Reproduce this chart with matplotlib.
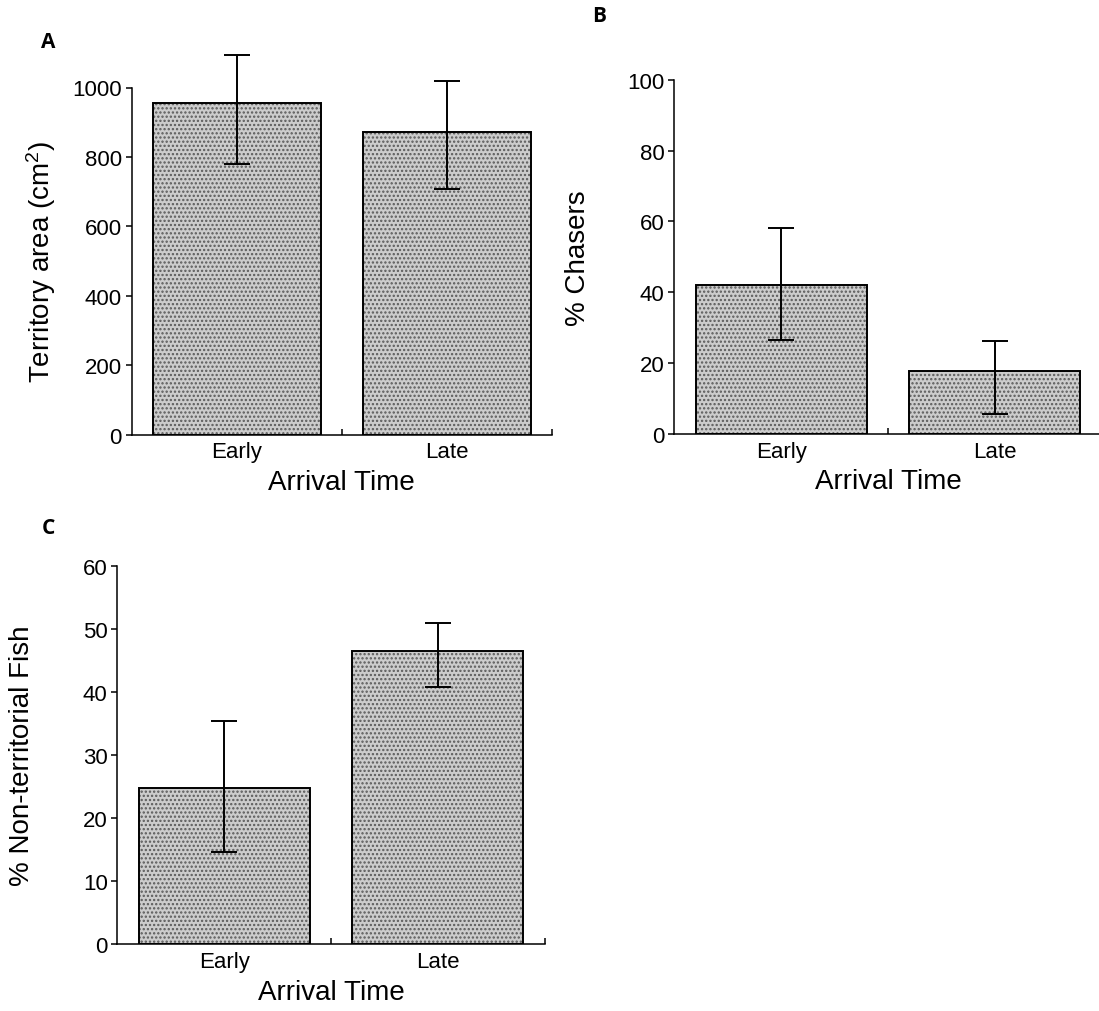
import matplotlib
matplotlib.use("Agg")
import matplotlib.pyplot as plt
import numpy as np

plt.rcParams['font.family'] = ['Liberation Sans', 'DejaVu Sans']
plt.rcParams['mathtext.fontset'] = 'custom'
plt.rcParams['mathtext.rm'] = 'Liberation Sans'
plt.rcParams['mathtext.it'] = 'Liberation Sans:italic'
plt.rcParams['hatch.linewidth'] = 1.1

# ---- data ----
categories = ["Early", "Late"]

area_mean = [955, 871]
area_err_low = [175, 164]
area_err_high = [140, 149]
area_ticks = [0, 200, 400, 600, 800, 1000]

chasers_mean = [42.1, 17.7]
chasers_err_low = [15.5, 12.1]
chasers_err_high = [16.0, 8.6]
chasers_ticks = [0, 20, 40, 60, 80, 100]

nonterr_mean = [24.7, 46.4]
nonterr_err_low = [10.1, 5.7]
nonterr_err_high = [10.7, 4.5]
nonterr_ticks = [0, 10, 20, 30, 40, 50, 60]

W, H = 1099, 1012
fig = plt.figure(figsize=(W / 100, H / 100), dpi=100)


def px_axes(left, right, bottom, top):
    return fig.add_axes([left / W, 1 - bottom / H, (right - left) / W, (bottom - top) / H])


def draw_panel(ax, means, lo, hi, ticks, ylabel, ylabel_x, xlabel_y):
    x = np.arange(len(categories))
    ax.bar(x, means, width=0.80, color='#cccccc', edgecolor='#5a5a5a',
           hatch='....', linewidth=0, zorder=2)
    ax.bar(x, means, width=0.80, fill=False, edgecolor='black',
           linewidth=1.4, zorder=3)
    ax.errorbar(x, means, yerr=[lo, hi], fmt='none', ecolor='black',
                elinewidth=1.4, capsize=9.5, capthick=1.4, zorder=4,
                clip_on=False)
    ax.set_xlim(-0.5, 1.5)
    ax.set_ylim(ticks[0], ticks[-1])
    ax.set_yticks(ticks)
    ax.set_yticklabels([str(t) for t in ticks], fontsize=16)
    ax.set_xticks(x)
    ax.set_xticklabels(categories, fontsize=16)
    ax.set_xticks([0.5, 1.5], minor=True)
    ax.tick_params(axis='x', which='major', length=0, pad=5.0)
    ax.tick_params(axis='x', which='minor', direction='in', length=4, width=1.1)
    ax.tick_params(axis='y', which='major', direction='out', length=4, width=1.1, pad=3)
    for s in ['top', 'right']:
        ax.spines[s].set_visible(False)
    for s in ['left', 'bottom']:
        ax.spines[s].set_linewidth(1.1)
    ax.text(ylabel_x, 0.5, ylabel, transform=ax.transAxes, rotation=90,
            ha='center', va='center', fontsize=20)
    ax.text(0.5, xlabel_y, "Arrival Time", transform=ax.transAxes,
            ha='center', va='center', fontsize=20)


axA = px_axes(131.7, 551.7, 435.5, 88.5)
draw_panel(axA, area_mean, area_err_low, area_err_high, area_ticks,
           "Territory area (cm$^2$)", (41.6 - 131.7) / 420, -47 / 347)

axB = px_axes(674.3, 1101.5, 435.0, 80.7)
draw_panel(axB, chasers_mean, chasers_err_low, chasers_err_high, chasers_ticks,
           "% Chasers", (578.4 - 674.3) / 427.2, -47 / 354.3)

axC = px_axes(117.4, 544.5, 945.0, 566.7)
draw_panel(axC, nonterr_mean, nonterr_err_low, nonterr_err_high, nonterr_ticks,
           "% Non-territorial Fish", (22 - 117.4) / 427.1, -48 / 378.3)

for lab, (px, py) in zip(["A", "B", "C"], [(48, 42), (599, 16), (48, 529)]):
    fig.text(px / W, 1 - py / H, lab, ha='center', va='center', fontsize=15,
             fontweight='bold', family=['Open Sans', 'DejaVu Sans'])

fig.savefig("out.png", dpi=100)
